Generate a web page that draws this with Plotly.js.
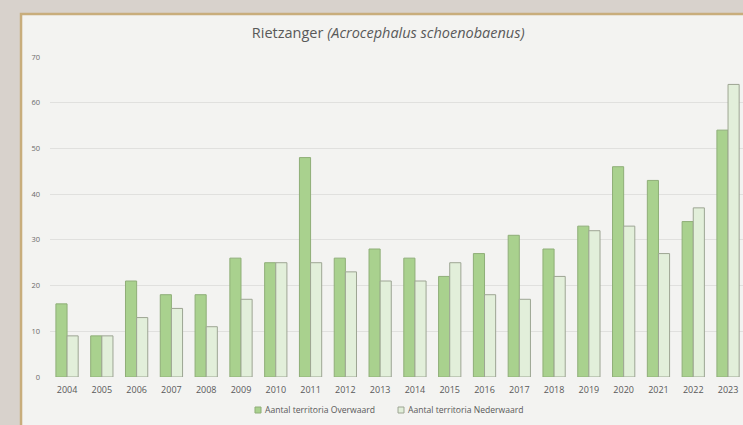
<!DOCTYPE html>
<html>
<head>
<meta charset="utf-8">
<script src="https://cdn.plot.ly/plotly-3.0.1.min.js"></script>
<style>html,body{margin:0;padding:0;background:#d8d1ca;}#chart{width:743px;height:425px;}</style>
</head>
<body>
<div id="chart"></div>
<script>
const years = ["2004","2005","2006","2007","2008","2009","2010","2011","2012","2013","2014","2015","2016","2017","2018","2019","2020","2021","2022","2023"];
const overwaard = [16, 9, 21, 18, 18, 26, 25, 48, 26, 28, 26, 22, 27, 31, 28, 33, 46, 43, 34, 54];
const nederwaard = [9, 9, 13, 15, 11, 17, 25, 25, 23, 21, 21, 25, 18, 17, 22, 32, 33, 27, 37, 64];
const yTicks = [0, 10, 20, 30, 40, 50, 60, 70];
const seriesNames = ['Aantal territoria Overwaard', 'Aantal territoria Nederwaard'];

const colO = '#a9d18e', lineO = '#8fae78';
const colN = '#e2efda', lineN = '#9da593';

const traces = [
  {type:'bar', x:years, y:overwaard, name:seriesNames[0],
   marker:{color:colO, line:{color:lineO, width:1}}},
  {type:'bar', x:years, y:nederwaard, name:seriesNames[1],
   marker:{color:colN, line:{color:lineN, width:1}}}
];

const legY = -0.103;
const layout = {
  width:743, height:425,
  margin:{l:50, r:0, t:57, b:48},
  paper_bgcolor:'#d8d2cc',
  plot_bgcolor:'rgba(0,0,0,0)',
  font:{family:'Open Sans, sans-serif', color:'#595959', size:8},
  barmode:'group', bargap:0.36, bargroupgap:0,
  title:{text:'Rietzanger <i>(Acrocephalus schoenobaenus)</i>', x:0.488, xref:'paper', xanchor:'center',
         y:0.922, yref:'container', yanchor:'middle', font:{size:14.5, color:'#595959', family:'Open Sans, sans-serif'}},
  xaxis:{type:'category', range:[-0.49, 19.43], showgrid:false, showline:false, zeroline:false,
         ticks:'', ticklabelstandoff:6, tickfont:{size:9, color:'#595959'}, fixedrange:true},
  yaxis:{range:[0,70], tickvals:yTicks, showgrid:true, gridcolor:'#e0e0de', gridwidth:1,
         zeroline:false, showline:false, ticks:'', ticklabelstandoff:9,
         tickfont:{size:7.5, color:'#6a6a6a'}, fixedrange:true},
  showlegend:false,
  annotations:[
    {text:seriesNames[0], xref:'paper', yref:'paper', x:0.3074, y:legY, xanchor:'left', yanchor:'middle',
     showarrow:false, font:{size:8.6, color:'#595959'}},
    {text:seriesNames[1], xref:'paper', yref:'paper', x:0.5137, y:legY, xanchor:'left', yanchor:'middle',
     showarrow:false, font:{size:8.6, color:'#595959'}}
  ],
  shapes:[
    {type:'rect', xref:'paper', yref:'paper', x0:-0.0418, x1:1.1, y0:-0.3, y1:1.134,
     fillcolor:'#f3f3f1', line:{color:'#c8ad7c', width:2.5}, layer:'below'},
    {type:'rect', xref:'paper', yref:'paper', x0:0.2958, x1:0.3045, y0:-0.1125, y1:-0.09375,
     fillcolor:colO, line:{color:lineO, width:1}},
    {type:'rect', xref:'paper', yref:'paper', x0:0.5022, x1:0.5108, y0:-0.1125, y1:-0.09375,
     fillcolor:colN, line:{color:lineN, width:1}}
  ]
};

Plotly.newPlot('chart', traces, layout, {displayModeBar:false, staticPlot:true});
</script>
</body>
</html>
